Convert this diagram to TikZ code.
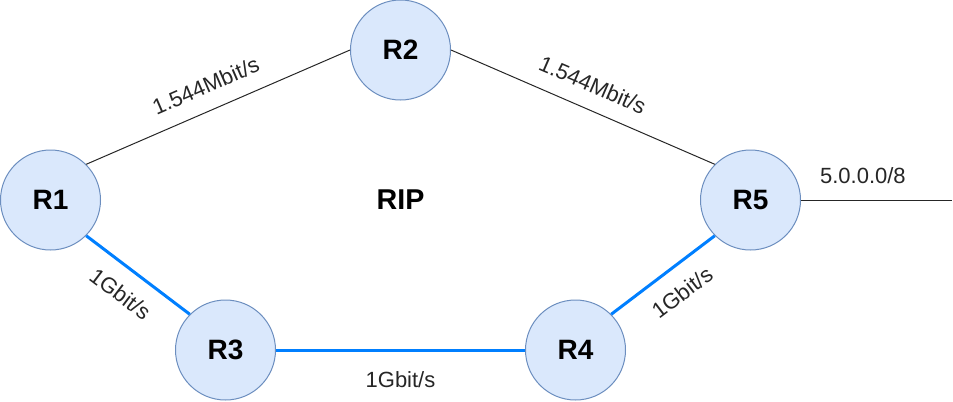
\documentclass[tikz,border=0pt]{standalone}
\usepackage{fontspec}
\setmainfont{Liberation Sans}
\usetikzlibrary{positioning}

\definecolor{routerfill}{HTML}{DAE8FC}
\definecolor{routerdraw}{HTML}{6C8EBF}
\definecolor{fastlink}{HTML}{007FFF}

\tikzset{
  router/.style={circle, draw=routerdraw, fill=routerfill, line width=0.75pt,
    minimum size=75pt, inner sep=0pt, font=\fontsize{21}{25}\selectfont\bfseries},
  slowlink/.style={draw=black!85, line width=0.75pt},
  gigalink/.style={draw=fastlink, line width=2.25pt},
  rate/.style={font=\fontsize{16.5}{19}\selectfont, inner sep=0pt, text=black!85}
}

\begin{document}
\begin{tikzpicture}[x=0.75pt,y=0.75pt]
  \useasboundingbox (0,0) rectangle (953,-401);
  % routers
  \node[router] (R1) at (50.5,-200) {R1};
  \node[router] (R2) at (400.5,-50) {R2};
  \node[router] (R3) at (225.5,-350) {R3};
  \node[router] (R4) at (575.5,-350) {R4};
  \node[router] (R5) at (750.5,-200) {R5};
  \node[font=\fontsize{21.5}{25}\selectfont\bfseries] (rip) at (400.5,-200) {RIP};
  \coordinate (net) at (952,-200);
  % slow links
  \draw[slowlink] (R1.north east) -- node[rate, pos=0.49, sloped, above=12pt] {1.544Mbit/s} (R2.west);
  \draw[slowlink] (R2.east) -- node[rate, pos=0.5, sloped, above=12pt] {1.544Mbit/s} (R5.north west);
  \draw[slowlink] (R5.east) -- node[rate, pos=0.41, above=12pt] {5.0.0.0/8} (net);
  % gigabit links
  \draw[gigalink] (R1.south east) -- node[rate, pos=0.48, sloped, below=12pt] {1Gbit/s} (R3.north west);
  \draw[gigalink] (R3.east) -- node[rate, pos=0.5, below=15pt] {1Gbit/s} (R4.west);
  \draw[gigalink] (R4.north east) -- node[rate, pos=0.535, sloped, below=12pt] {1Gbit/s} (R5.south west);
\end{tikzpicture}
\end{document}
